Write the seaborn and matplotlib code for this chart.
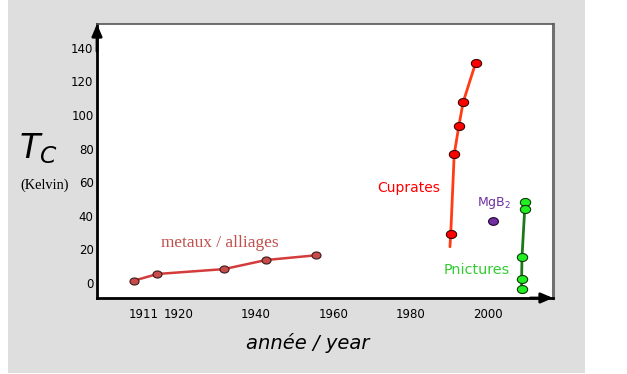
import numpy as np
import pandas as pd
import matplotlib.pyplot as plt
import seaborn as sns
from matplotlib.patches import Rectangle
from matplotlib.path import Path

# ---- values (year, Tc in kelvin) ----
metal_year = [1908.5, 1914.6, 1931.8, 1942.6, 1955.4]
metal_tc = [1.4, 5.4, 8.3, 13.7, 16.5]

cuprate_year = [1990.3, 1991.2, 1992.4, 1993.5, 1996.7]
cuprate_tc = [29.0, 76.6, 93.5, 107.6, 130.8]
# the red line starts a little below the first cuprate point
cuprate_line_year = [1990.1] + cuprate_year
cuprate_line_tc = [21.6] + cuprate_tc

mgb2_year = [2001.3]
mgb2_tc = [37.1]

pnictide_year = [2009.4, 2009.4, 2008.7, 2008.6, 2008.6]
pnictide_tc = [48.4, 44.0, 15.7, 2.4, -3.75]

xtick_years = [1911, 1920, 1940, 1960, 1980, 2000]
ytick_vals = [0, 20, 40, 60, 80, 100, 120, 140]

sns.set_style("white")
plt.rcParams['font.family'] = ['DejaVu Sans']
plt.rcParams['text.color'] = 'black'
plt.rcParams['xtick.color'] = 'black'
plt.rcParams['ytick.color'] = 'black'

fig = plt.figure(figsize=(6.27, 3.74), dpi=100)
# grey shadow panel behind the plot
fig.add_artist(Rectangle((8 / 627, 0.003), 577 / 627, 0.997, transform=fig.transFigure,
                         facecolor='#dedede', edgecolor='none', zorder=-5))
ax = fig.add_axes([97 / 627, 1 - 298 / 374, 456 / 627, 274 / 374])
ax.set_facecolor('white')

# slightly flattened round markers like in the original
t = np.linspace(0, 2 * np.pi, 60)
oval = Path(np.column_stack([np.cos(t), 0.78 * np.sin(t)]), closed=True)

# metaux / alliages
sns.lineplot(x=metal_year, y=metal_tc, color='#d43c3c', linewidth=1.8,
             sort=False, estimator=None, ax=ax)
sns.scatterplot(x=metal_year, y=metal_tc, marker=oval, s=42, color='#c84b4b',
                edgecolor='#3a1a1a', linewidth=0.8, ax=ax, zorder=3)

# cuprates
sns.lineplot(x=cuprate_line_year, y=cuprate_line_tc, color='#ff3c14', linewidth=2,
             sort=False, estimator=None, ax=ax)
sns.scatterplot(x=cuprate_year, y=cuprate_tc, marker=oval, s=55, color='#ff0000',
                edgecolor='#400000', linewidth=0.8, ax=ax, zorder=3)

# MgB2
sns.scatterplot(x=mgb2_year, y=mgb2_tc, marker=oval, s=50, color='#7030a0',
                edgecolor='#200030', linewidth=0.8, ax=ax, zorder=3)

# pnictures
sns.lineplot(x=pnictide_year, y=pnictide_tc, color='#1a7a1a', linewidth=2,
             sort=False, estimator=None, ax=ax)
sns.scatterplot(x=pnictide_year, y=pnictide_tc, marker=oval, s=55, color='#22ee22',
                edgecolor='#0a3a0a', linewidth=0.8, ax=ax, zorder=3)

ax.set_xlim(1899.0, 2016.7)
ax.set_ylim(-8.9, 154.2)
ax.set_xticks(xtick_years)
ax.set_yticks(ytick_vals)
ax.tick_params(axis='x', length=0, labelsize=8.5, pad=7.5, labelcolor='black')
ax.tick_params(axis='y', length=0, labelsize=8.5, pad=2.5, labelcolor='black')
ax.set_xlabel('')
ax.set_ylabel('')

ax.spines['left'].set_color('black')
ax.spines['left'].set_linewidth(2)
ax.spines['bottom'].set_color('black')
ax.spines['bottom'].set_linewidth(2)
ax.spines['top'].set_color('#555555')
ax.spines['top'].set_linewidth(1.2)
ax.spines['right'].set_color('#707070')
ax.spines['right'].set_linewidth(2.2)

# arrow heads on the axes
arrow = dict(arrowstyle='-|>,head_length=0.7,head_width=0.3', color='black', lw=2,
             shrinkA=0, shrinkB=0)
ax.annotate('', xy=(0, 1), xytext=(0, 0.9), xycoords='axes fraction',
            arrowprops=arrow, annotation_clip=False)
ax.annotate('', xy=(1, 0), xytext=(0.95, 0), xycoords='axes fraction',
            arrowprops=arrow, annotation_clip=False)

# series labels
ax.text(1930.7, 23.8, 'metaux / alliages', family='Liberation Serif', fontsize=12.4,
        color='#c0504d', ha='center', va='center')
ax.text(1979.5, 56.5, 'Cuprates', fontsize=10, color='#ff0000', ha='center', va='center')
ax.text(1997.1, 7.7, 'Pnictures', fontsize=10.4, color='#33cc33', ha='center', va='center')
ax.text(2001.4, 47.6, 'MgB$_2$', fontsize=9, color='#7030a0', ha='center', va='center')

# axis titles
fig.text(38 / 627, 1 - 149 / 374, '$T_C$', fontsize=24, color='black',
         ha='center', va='center')
fig.text(45 / 627, 1 - 185 / 374, '(Kelvin)', family='Liberation Serif', fontsize=10.4,
         color='black', ha='center', va='center')
fig.text(308 / 627, 1 - 343 / 374, 'année / year', fontsize=14, style='italic',
         color='black', ha='center', va='center')

fig.savefig('out.png', dpi=100)
